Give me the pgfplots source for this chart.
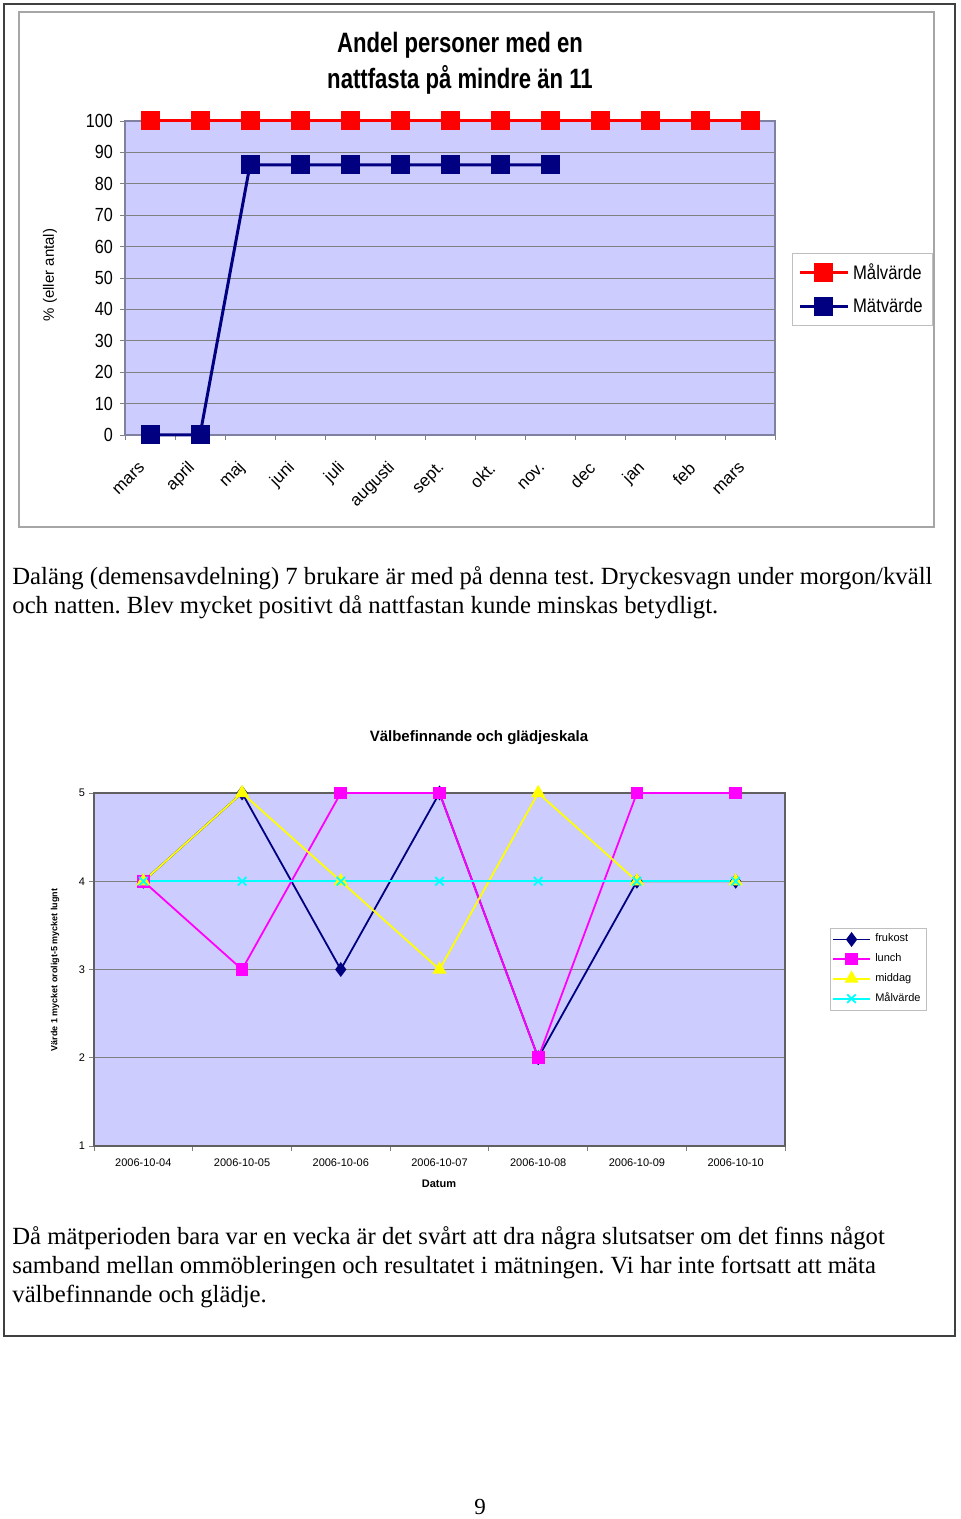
\documentclass[border=0pt]{standalone}
\usepackage{pgfplots}
\pgfplotsset{compat=1.18}
\usepackage{fontspec}
\setmainfont{Liberation Serif}
\setsansfont{Liberation Sans}
\newfontfamily\narrow[FakeStretch=0.85]{Liberation Sans}
\newfontfamily\narrowt[FakeStretch=0.79]{Liberation Sans}
\definecolor{lav}{RGB}{204,204,255}
\definecolor{axbord}{RGB}{128,128,160}
\definecolor{navy}{RGB}{0,0,128}
\definecolor{mred}{RGB}{255,0,0}
\definecolor{mmag}{RGB}{255,0,255}
\definecolor{myel}{RGB}{255,255,0}
\definecolor{mcyan}{RGB}{0,255,255}
\frenchspacing
\begin{document}
\begin{tikzpicture}[x=0.5pt,y=0.5pt]
\path (0,0) rectangle (960,1519);
% outer page frame
\draw[black!75, line width=0.75pt] (4,1515) rectangle (955,183);
% chart frame
\draw[gray!70, line width=0.7pt] (19,1507) rectangle (934,992);
% title
\node[font=\narrowt\bfseries\fontsize{14}{16}\selectfont] at (460,1474) {Andel personer med en};
\node[font=\narrowt\bfseries\fontsize{14}{16}\selectfont] at (460,1439) {nattfasta på mindre än 11};
\node[rotate=90, font=\sffamily\fontsize{7.5}{9}\selectfont] at (50,1244) {\% (eller antal)};

\begin{axis}[
  at={(62.5pt,542pt)}, anchor=south west, scale only axis,
  width=325pt, height=157pt,
  xmin=-0.5, xmax=12.5, ymin=0, ymax=100,
  clip=false,
  axis background/.style={fill=lav},
  axis line style={draw=axbord, line width=0.6pt},
  ytick={0,10,...,100},
  ymajorgrids, major grid style={gray, line width=0.4pt},
  xtick={-0.5,0.5,...,12.5}, xticklabels={},
  tick align=outside, xtick pos=bottom, ytick pos=left,
  major tick length=2.5pt,
  tick style={gray, line width=0.4pt},
  /pgf/number format/assume math mode=true,
  yticklabel style={font=\narrow\fontsize{9.5}{11}\selectfont},
  extra x ticks={0,...,12},
  extra x tick labels={mars,april,maj,juni,juli,augusti,sept.,okt.,nov.,dec,jan,feb,mars},
  extra x tick style={major tick length=0pt, grid=none,
     xticklabel style={rotate=45, anchor=east, xshift=-10pt, yshift=-8pt, font=\sffamily\fontsize{8.5}{10}\selectfont}},
  legend style={at={(1.026,0.58)}, anchor=north west, draw=gray!50, fill=white,
     font=\narrow\fontsize{9.8}{11}\selectfont, row sep=4pt, inner sep=3pt},
  legend cell align=left,
  legend image code/.code={\draw[mark repeat=2,mark phase=2] plot coordinates {(0cm,0cm)(0.42cm,0cm)(0.84cm,0cm)};},
]
\addplot[mred, line width=1.5pt, mark=square*, mark size=4pt, mark options={solid, fill=mred, draw=mred}]
 coordinates {(0,100)(1,100)(2,100)(3,100)(4,100)(5,100)(6,100)(7,100)(8,100)(9,100)(10,100)(11,100)(12,100)};
\addlegendentry{Målvärde}
\addplot[navy, line width=1.5pt, mark=square*, mark size=4pt, mark options={solid, fill=navy, draw=navy}]
 coordinates {(0,0)(1,0)(2,86)(3,86)(4,86)(5,86)(6,86)(7,86)(8,86)};
\addlegendentry{Mätvärde}
\end{axis}

% paragraph 1
\node[anchor=base west, inner sep=0, font=\fontsize{12.35}{14}\selectfont] at (12,934) {Daläng (demensavdelning) 7 brukare är med på denna test. Dryckesvagn under morgon/kväll};
\node[anchor=base west, inner sep=0, font=\fontsize{12.35}{14}\selectfont] at (12,905) {och natten. Blev mycket positivt då nattfastan kunde minskas betydligt.};

% chart 2
\node[font=\sffamily\bfseries\fontsize{7.5}{9}\selectfont] at (479,781) {Välbefinnande och glädjeskala};
\node[rotate=90, font=\sffamily\bfseries\fontsize{4.5}{5}\selectfont] at (55,549) {Värde 1 mycket oroligt-5 mycket lugnt};
\node[font=\sffamily\bfseries\fontsize{5.5}{7}\selectfont] at (439,335) {Datum};

\begin{axis}[
  at={(47pt,186.5pt)}, anchor=south west, scale only axis,
  width=345.5pt, height=176.5pt,
  xmin=-0.5, xmax=6.5, ymin=1, ymax=5,
  clip=false,
  axis background/.style={fill=lav},
  axis line style={draw=gray!75!black, line width=1pt},
  ytick={1,2,3,4,5},
  ymajorgrids, major grid style={gray, line width=0.4pt},
  xtick={-0.5,0.5,...,6.5}, xticklabels={},
  tick align=outside, xtick pos=bottom, ytick pos=left,
  major tick length=2.5pt,
  tick style={gray, line width=0.4pt},
  /pgf/number format/assume math mode=true,
  yticklabel style={font=\sffamily\fontsize{5.5}{7}\selectfont, xshift=1.5pt},
  extra x ticks={0,...,6},
  extra x tick labels={2006-10-04,2006-10-05,2006-10-06,2006-10-07,2006-10-08,2006-10-09,2006-10-10},
  extra x tick style={major tick length=0pt, grid=none,
     xticklabel style={yshift=-3pt, font=\sffamily\fontsize{5.5}{7}\selectfont}},
  legend style={at={(1.065,0.6176)}, anchor=north west, draw=gray!50, fill=white,
     font=\sffamily\fontsize{5.5}{7}\selectfont, row sep=0.3pt, inner sep=0.8pt},
  legend cell align=left,
  legend image code/.code={\draw[mark repeat=2,mark phase=2] plot coordinates {(0cm,0cm)(0.33cm,0cm)(0.66cm,0cm)};},
]
\addplot[navy, line width=0.9pt, mark=diamond*, mark size=3pt, mark options={solid, fill=navy, draw=navy}]
 coordinates {(0,4)(1,5)(2,3)(3,5)(4,2)(5,4)(6,4)};
\addlegendentry{frukost}
\addplot[mmag, line width=0.9pt, mark=square*, mark size=2.7pt, mark options={solid, fill=mmag, draw=mmag}]
 coordinates {(0,4)(1,3)(2,5)(3,5)(4,2)(5,5)(6,5)};
\addlegendentry{lunch}
\addplot[myel, line width=0.9pt, mark=triangle*, mark size=3.2pt, mark options={solid, fill=myel, draw=myel}]
 coordinates {(0,4)(1,5)(2,4)(3,3)(4,5)(5,4)(6,4)};
\addlegendentry{middag}
\addplot[mcyan, line width=0.9pt, mark=x, mark size=3pt, mark options={solid, draw=mcyan, line width=0.9pt}]
 coordinates {(0,4)(1,4)(2,4)(3,4)(4,4)(5,4)(6,4)};
\addlegendentry{Målvärde}
\end{axis}

% paragraph 2
\node[anchor=base west, inner sep=0, font=\fontsize{12.35}{14}\selectfont] at (12,274) {Då mätperioden bara var en vecka är det svårt att dra några slutsatser om det finns något};
\node[anchor=base west, inner sep=0, font=\fontsize{12.35}{14}\selectfont] at (12,245) {samband mellan ommöbleringen och resultatet i mätningen. Vi har inte fortsatt att mäta};
\node[anchor=base west, inner sep=0, font=\fontsize{12.35}{14}\selectfont] at (12,216) {välbefinnande och glädje.};
\node[anchor=base, inner sep=0, font=\fontsize{11.5}{13}\selectfont] at (480,4) {9};
\end{tikzpicture}
\end{document}
